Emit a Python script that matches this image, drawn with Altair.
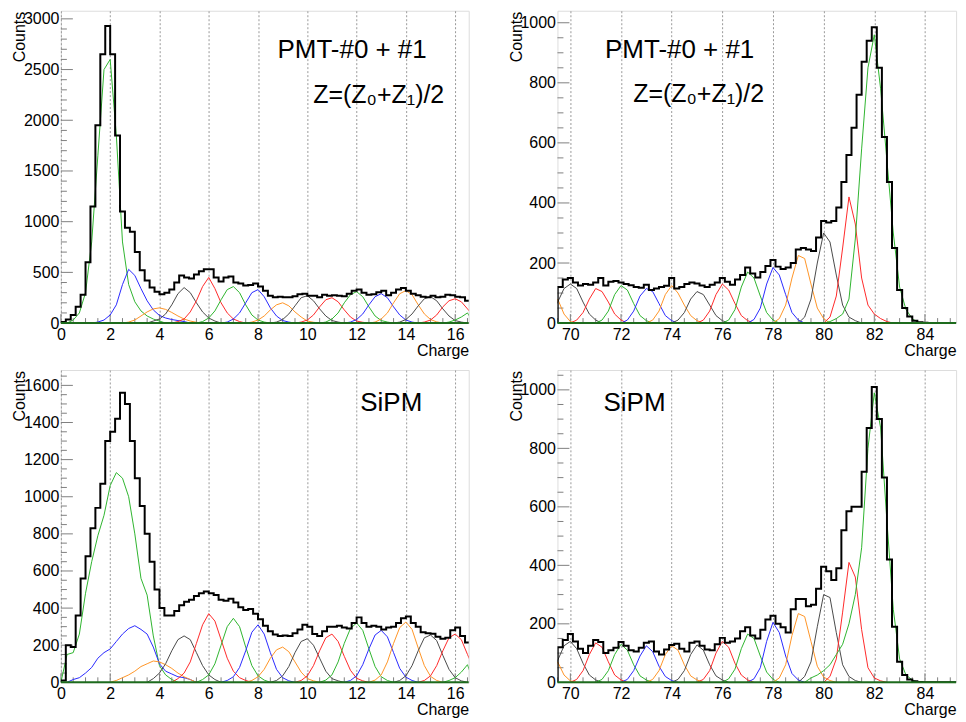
import altair as alt
import pandas as pd

# ---------------- data ----------------
TOTAL_BIN = 0.2
COMP_BIN = 0.25

# total histograms: first bin starts at the given edge, bin width TOTAL_BIN
tl_total_start = 0.0
tl_total = [10, 35, 80, 160, 280, 600, 1150, 1950, 2650, 2930, 2650, 1850, 1100, 940, 900,
            700, 520, 420, 350, 310, 285, 300, 330, 400, 470, 450, 440, 480, 510, 530,
            530, 450, 410, 450, 460, 400, 390, 370, 375, 390, 360, 320, 270, 255, 260,
            255, 255, 265, 285, 290, 270, 270, 255, 280, 270, 275, 270, 265, 290, 320,
            330, 300, 280, 285, 305, 320, 275, 300, 330, 345, 320, 290, 275, 260, 255,
            270, 255, 260, 280, 275, 260, 255, 220]

tr_total_start = 69.5
tr_total = [120, 145, 150, 135, 125, 130, 128, 135, 150, 125, 138, 140, 135, 130, 126,
            120, 118, 128, 110, 115, 120, 124, 150, 115, 120, 130, 135, 132, 125, 120,
            128, 135, 150, 138, 128, 145, 160, 185, 165, 152, 170, 190, 210, 188, 180,
            185, 200, 245, 250, 245, 240, 285, 340, 335, 340, 385, 470, 560, 650, 760,
            870, 940, 985, 850, 620, 470, 250, 110, 50, 22, 8, 3, 1, 0, 0,
            0, 0, 0, 0, 0]

bl_total_start = 0.0
bl_total = [10, 200, 190, 360, 560, 680, 830, 940, 1070, 1300, 1350, 1420, 1560, 1500, 1300,
            1100, 950, 800, 650, 500, 400, 360, 360, 385, 415, 434, 445, 465, 480, 490,
            480, 470, 445, 440, 450, 430, 405, 390, 395, 370, 340, 305, 275, 258, 250,
            252, 250, 265, 285, 310, 300, 260, 250, 275, 300, 300, 305, 295, 290, 320,
            350, 320, 300, 305, 300, 285, 295, 300, 320, 345, 355, 320, 300, 270, 265,
            262, 245, 235, 240, 280, 295, 250, 215]

br_total_start = 69.5
br_total = [120, 145, 165, 140, 115, 100, 125, 145, 138, 100, 110, 118, 138, 125, 110,
            105, 118, 135, 140, 105, 95, 112, 128, 132, 115, 105, 135, 140, 125, 112,
            110, 130, 152, 135, 140, 150, 175, 188, 160, 150, 180, 215, 228, 200, 188,
            170, 250, 285, 285, 260, 265, 320, 395, 380, 350, 390, 520, 585, 600, 600,
            720, 870, 1010, 900, 700, 420, 190, 70, 25, 10, 4, 1, 0, 0, 0,
            0, 0, 0, 0, 0]

# component histograms: (charge Z, centre of first bin, values), bin spacing COMP_BIN
tl_comps = [
    (2, 0.5, [30, 100, 300, 800, 1650, 2500, 2600, 1850, 800, 380, 210, 120, 70, 40, 20]),
    (3, 1.5, [10, 30, 80, 180, 380, 530, 470, 340, 220, 130, 75, 50, 35, 25, 15]),
    (4, 2.75, [10, 30, 70, 110, 140, 150, 135, 105, 70, 40, 20, 8]),
    (5, 3.75, [20, 40, 90, 180, 290, 350, 300, 200, 110, 50, 20]),
    (6, 4.75, [15, 40, 110, 220, 360, 450, 340, 200, 100, 40, 15]),
    (7, 5.75, [15, 50, 120, 230, 330, 360, 300, 180, 80, 30, 10]),
    (8, 6.75, [10, 40, 100, 200, 300, 330, 260, 150, 70, 25, 10]),
    (9, 7.75, [10, 30, 70, 130, 180, 200, 170, 110, 60, 20, 8]),
    (10, 8.75, [10, 35, 90, 170, 250, 270, 220, 140, 70, 25, 10]),
    (11, 9.75, [10, 30, 80, 160, 230, 250, 210, 130, 60, 20, 8]),
    (12, 10.75, [10, 40, 100, 200, 280, 310, 260, 160, 70, 25, 10]),
    (13, 11.75, [10, 35, 90, 180, 260, 290, 250, 160, 80, 30, 10]),
    (14, 12.75, [10, 40, 100, 200, 290, 320, 280, 180, 90, 35, 12]),
    (15, 13.75, [10, 35, 90, 170, 240, 260, 220, 140, 70, 25, 10]),
    (16, 14.75, [10, 30, 80, 160, 220, 240, 210, 140, 70]),
    (17, 15.75, [10, 30, 60, 100]),
]

tr_comps = [
    (69, 69.5, [80, 30, 5]),
    (70, 69.25, [30, 70, 115, 130, 115, 70, 30, 10]),
    (71, 70.25, [10, 35, 80, 115, 105, 70, 30, 10]),
    (72, 71.25, [10, 40, 95, 125, 110, 65, 25, 8]),
    (73, 72.25, [10, 40, 90, 115, 105, 65, 25, 8]),
    (74, 73.25, [10, 40, 95, 125, 100, 60, 25, 8]),
    (75, 74.25, [10, 35, 80, 105, 95, 60, 25, 8]),
    (76, 75.25, [10, 40, 95, 130, 110, 65, 25, 8]),
    (77, 76.25, [10, 45, 120, 170, 150, 90, 35, 10]),
    (78, 77.25, [12, 50, 130, 185, 160, 95, 35, 10]),
    (79, 78.25, [15, 60, 150, 225, 215, 130, 50, 15]),
    (80, 79.25, [20, 80, 200, 300, 270, 160, 60, 20, 8]),
    (81, 80.25, [20, 90, 250, 420, 330, 150, 60, 30, 15, 5]),
    (82, 80.25, [5, 15, 30, 80, 280, 580, 850, 960, 780, 540, 300, 120, 45, 15]),
]

bl_comps = [
    (2, 0.25, [150, 160, 260, 480, 650, 790, 900, 1060, 1130, 1100, 1000, 800, 560, 470, 250, 90, 40, 15]),
    (3, 0.5, [15, 25, 50, 80, 130, 160, 180, 220, 260, 290, 305, 285, 260, 190, 100, 60, 45, 30, 25, 15]),
    (4, 2.25, [10, 25, 40, 60, 85, 100, 115, 110, 95, 75, 50, 30, 15]),
    (5, 3.75, [20, 50, 100, 170, 230, 250, 230, 160, 90, 40, 15]),
    (6, 4.75, [20, 50, 110, 210, 310, 370, 330, 230, 130, 60, 25, 10]),
    (7, 5.75, [15, 40, 100, 200, 300, 345, 300, 190, 90, 35, 12]),
    (8, 6.75, [10, 30, 80, 170, 270, 310, 260, 160, 70, 25, 8]),
    (9, 7.75, [10, 30, 70, 130, 175, 190, 165, 110, 55, 20, 8]),
    (10, 8.75, [10, 35, 85, 160, 220, 235, 200, 130, 60, 20, 8]),
    (11, 9.75, [10, 35, 90, 170, 240, 260, 220, 140, 65, 22, 8]),
    (12, 10.75, [12, 40, 110, 210, 290, 320, 280, 180, 85, 30, 10]),
    (13, 11.75, [10, 35, 95, 180, 255, 280, 245, 160, 75, 28, 10]),
    (14, 12.75, [12, 40, 110, 210, 295, 325, 285, 185, 90, 32, 10]),
    (15, 13.75, [10, 35, 90, 170, 240, 255, 225, 145, 70, 25, 8]),
    (16, 14.75, [10, 35, 90, 170, 240, 260, 230, 150, 75]),
    (17, 15.75, [10, 25, 55, 95]),
]

br_comps = [
    (69, 69.5, [70, 25, 5]),
    (70, 69.25, [30, 75, 125, 140, 115, 65, 25, 8]),
    (71, 70.25, [10, 40, 95, 135, 120, 70, 25, 8]),
    (72, 71.25, [10, 40, 95, 130, 110, 60, 22, 8]),
    (73, 72.25, [10, 40, 90, 125, 105, 55, 20, 6]),
    (74, 73.25, [10, 40, 95, 125, 110, 60, 22, 8]),
    (75, 74.25, [10, 40, 95, 128, 110, 60, 22, 8]),
    (76, 75.25, [10, 40, 100, 140, 120, 65, 25, 8]),
    (77, 76.25, [12, 45, 115, 165, 150, 90, 35, 10]),
    (78, 77.25, [12, 50, 140, 205, 170, 90, 30, 8]),
    (79, 78.25, [15, 60, 160, 235, 225, 140, 55, 18, 6]),
    (80, 79.25, [20, 70, 190, 300, 290, 170, 60, 20, 6]),
    (81, 80.25, [20, 80, 240, 410, 360, 180, 50, 15, 5]),
    (82, 79.5, [15, 25, 40, 60, 95, 130, 200, 300, 460, 800, 990, 870, 550, 250, 80, 25, 8]),
]

# colour of a component by Z modulo 5
COLOR_KEYS = ["0", "1", "2", "3", "4"]
COLOR_VALUES = ["#4a4a4a", "#ff2a2a", "#2fb52f", "#2a2aff", "#ff9526"]

# axes
left_xdom = [0, 16.55]
right_xdom = [69.49, 85.23]
left_xmajor = [0, 2, 4, 6, 8, 10, 12, 14, 16]
right_xmajor = [70, 72, 74, 76, 78, 80, 82, 84]
left_xminor = [0.5, 1, 1.5, 2.5, 3, 3.5, 4.5, 5, 5.5, 6.5, 7, 7.5, 8.5, 9, 9.5, 10.5, 11, 11.5,
               12.5, 13, 13.5, 14.5, 15, 15.5, 16.5]
right_xminor = [69.5, 70.5, 71, 71.5, 72.5, 73, 73.5, 74.5, 75, 75.5, 76.5, 77, 77.5, 78.5, 79,
                79.5, 80.5, 81, 81.5, 82.5, 83, 83.5, 84.5, 85, 85.5]

tl_ymax, tr_ymax, bl_ymax, br_ymax = 3080, 1040, 1683, 1068
tl_ymajor = [0, 500, 1000, 1500, 2000, 2500, 3000]
tl_yminor = [v for v in range(100, 3100, 100) if v % 500]
tr_ymajor = [0, 200, 400, 600, 800, 1000]
tr_yminor = [v for v in range(50, 1050, 50) if v % 200]
bl_ymajor = [0, 200, 400, 600, 800, 1000, 1200, 1400, 1600]
bl_yminor = [v for v in range(50, 1700, 50) if v % 200]
br_ymajor = [0, 200, 400, 600, 800, 1000]
br_yminor = [v for v in range(50, 1060, 50) if v % 200]

# annotation texts: (x, y, text, font size)
tl_texts = [(8.79, 2610, "PMT-#0 + #1", 26), (10.24, 2170, "Z=(Z₀+Z₁)/2", 25)]
tr_texts = [(71.37, 881, "PMT-#0 + #1", 26), (72.48, 735, "Z=(Z₀+Z₁)/2", 25)]
bl_texts = [(12.15, 1464, "SiPM", 26)]
br_texts = [(71.31, 929, "SiPM", 26)]

# ---------------- layout ----------------
PW_L, PW_R, PH = 408.7, 399.5, 313
LABEL_FONT = "Liberation Sans"
TEXT_FONT = "Liberation Sans"


def hist_rows(first_edge, width, values, sid, key):
    """Step outline of a histogram (left bin edges)."""
    rows = [{"s": sid, "k": key, "i": 0, "x": first_edge, "y": 0}]
    for j, v in enumerate(values):
        rows.append({"s": sid, "k": key, "i": j + 1, "x": first_edge + j * width, "y": v})
    rows.append({"s": sid, "k": key, "i": len(values) + 1,
                 "x": first_edge + len(values) * width, "y": 0})
    return rows


def comp_rows_of(first_center, width, values, sid, key):
    """Component outline through bin centres, closed to zero at both ends."""
    rows = [{"s": sid, "k": key, "i": 0, "x": first_center - width, "y": 0}]
    for j, v in enumerate(values):
        rows.append({"s": sid, "k": key, "i": j + 1, "x": first_center + j * width, "y": v})
    rows.append({"s": sid, "k": key, "i": len(values) + 1,
                 "x": first_center + len(values) * width, "y": 0})
    return rows


def panel(total, total_start, comps, xdom, pw, ymax, xmajor, xminor, ymajor, yminor, texts,
          anchor=False):
    xs = alt.Scale(domain=xdom, nice=False, zero=False)
    ys = alt.Scale(domain=[0, ymax], nice=False, zero=False)
    xaxis = alt.Axis(values=xmajor, format="d", title="Charge", ticks=False, tickSize=0,
                     domain=False, grid=True, gridColor="#9a9a9a", gridDash=[2, 2], gridWidth=1,
                     labelFont=LABEL_FONT, labelFontSize=16, labelColor="black", labelPadding=3,
                     labelFlush=False, labelOverlap=False,
                     titleFont=LABEL_FONT, titleFontSize=16, titleFontWeight="normal",
                     titleColor="black", titleAlign="right", titleBaseline="alphabetic",
                     titleAngle=0, titleX=pw, titleY=32)
    yaxis = alt.Axis(values=ymajor, format="d", title="Counts", ticks=False, tickSize=0,
                     domain=False, grid=False,
                     labelFont=LABEL_FONT, labelFontSize=16, labelColor="black", labelPadding=2,
                     labelFlush=False, labelOverlap=False,
                     titleFont=LABEL_FONT, titleFontSize=16, titleFontWeight="normal",
                     titleColor="black", titleAlign="right", titleBaseline="alphabetic",
                     titleAngle=270, titleX=-36.5, titleY=0.5)

    def X(f):
        return alt.X(f, type="quantitative", scale=xs, axis=xaxis)

    def Y(f):
        return alt.Y(f, type="quantitative", scale=ys, axis=yaxis)

    comp_rows = []
    for z, c0, vals in comps:
        comp_rows += comp_rows_of(c0, COMP_BIN, vals, f"z{z}", str(z % 5))
    comp_df = pd.DataFrame(comp_rows)
    tot_df = pd.DataFrame(hist_rows(total_start, TOTAL_BIN, total, "tot", "t"))
    xminor_in = [v for v in xminor if xdom[0] <= v <= xdom[1]]

    layers = []
    layers.append(
        alt.Chart(pd.DataFrame({"v": yminor})).mark_rule(color="#808080", strokeWidth=1)
        .encode(y=Y("v"), x=alt.value(0), x2=alt.value(6)))
    layers.append(
        alt.Chart(pd.DataFrame({"v": ymajor})).mark_rule(color="#808080", strokeWidth=1)
        .encode(y=Y("v"), x=alt.value(0), x2=alt.value(12)))
    layers.append(
        alt.Chart(pd.DataFrame({"v": xminor_in})).mark_rule(color="#808080", strokeWidth=1)
        .encode(x=X("v"), y=alt.value(PH), y2=alt.value(PH - 5)))
    layers.append(
        alt.Chart(pd.DataFrame({"v": xmajor})).mark_rule(color="#808080", strokeWidth=1)
        .encode(x=X("v"), y=alt.value(PH), y2=alt.value(PH - 9)))
    layers.append(
        alt.Chart(comp_df).mark_line(interpolate="linear", strokeWidth=1, clip=True)
        .encode(x=X("x"), y=Y("y"), detail="s:N", order="i:Q",
                color=alt.Color("k:N", scale=alt.Scale(domain=COLOR_KEYS, range=COLOR_VALUES),
                                legend=None)))
    layers.append(
        alt.Chart(tot_df).mark_line(interpolate="step-after", strokeWidth=2, color="black",
                                    clip=True)
        .encode(x=X("x"), y=Y("y"), order="i:Q"))
    layers.append(
        alt.Chart(pd.DataFrame({"a": [xdom[0]], "b": [xdom[1]], "y": [0]}))
        .mark_rule(color="#1d6b1d", strokeWidth=2)
        .encode(x=X("a"), x2="b", y=Y("y")))
    tdf = pd.DataFrame([{"x": t[0], "y": t[1], "t": t[2], "fs": t[3]} for t in texts])
    layers.append(
        alt.Chart(tdf).mark_text(align="left", baseline="alphabetic", font=TEXT_FONT,
                                 color="black")
        .encode(x=X("x"), y=Y("y"), text="t:N", size=alt.Size("fs:Q", scale=None)))
    if anchor:
        layers.append(
            alt.Chart(pd.DataFrame({"a": [0]})).mark_rect(opacity=0)
            .encode(x=alt.value(-52), x2=alt.value(-51), y=alt.value(-1.3), y2=alt.value(0)))
    return alt.layer(*layers).properties(width=pw, height=PH)


tl = panel(tl_total, tl_total_start, tl_comps, left_xdom, PW_L, tl_ymax, left_xmajor,
           left_xminor, tl_ymajor, tl_yminor, tl_texts, anchor=True)
tr = panel(tr_total, tr_total_start, tr_comps, right_xdom, PW_R, tr_ymax, right_xmajor,
           right_xminor, tr_ymajor, tr_yminor, tr_texts)
bl = panel(bl_total, bl_total_start, bl_comps, left_xdom, PW_L, bl_ymax, left_xmajor,
           left_xminor, bl_ymajor, bl_yminor, bl_texts)
br = panel(br_total, br_total_start, br_comps, right_xdom, PW_R, br_ymax, right_xmajor,
           right_xminor, br_ymajor, br_yminor, br_texts)

chart = alt.concat(tl, tr, bl, br, columns=2, spacing={"row": 47, "column": 88.6},
                   bounds="flush").properties(padding=0).configure_view(
    stroke="black", strokeWidth=1, fill="white").configure(background="white")

chart.save("out.html", embed_options={"renderer": "svg", "actions": False})
